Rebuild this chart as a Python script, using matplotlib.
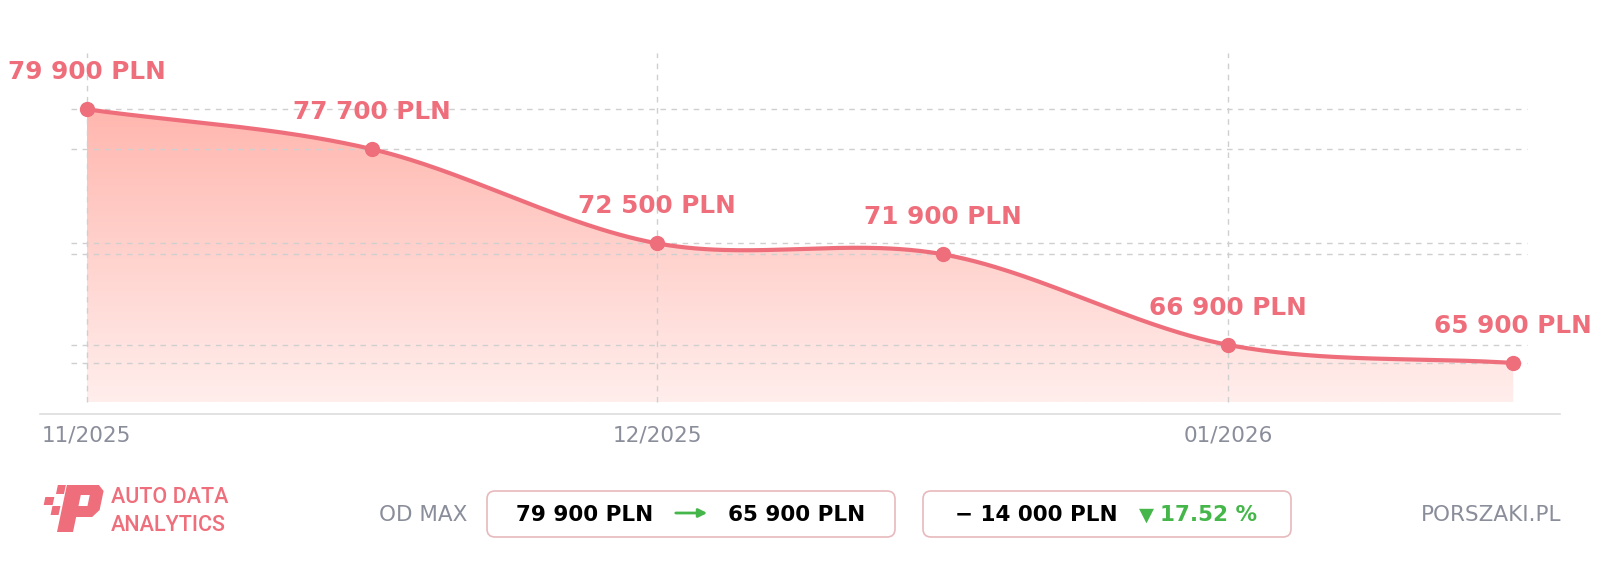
import numpy as np
import matplotlib
matplotlib.use("Agg")
import matplotlib.pyplot as plt
from matplotlib.patches import FancyBboxPatch, Polygon

# dane z wykresu
months = ["11/2025", "12/2025", "01/2026"]
month_pos = [0, 2, 4]
prices = [79900, 77700, 72500, 71900, 66900, 65900]

LINE = "#EE6E7B"
GRID = "#CFCFCF"
GRAY = "#8A8D9A"
GREEN = "#45B649"


def fmt(v):
    return f"{v:,}".replace(",", " ") + " PLN"


# krzywa Catmull-Rom (Hermite), rowne odstepy
def smooth(ys, n=60):
    ys = np.asarray(ys, float)
    m = len(ys)
    tang = np.zeros(m)
    tang[0] = ys[1] - ys[0]
    tang[-1] = ys[-1] - ys[-2]
    tang[1:-1] = (ys[2:] - ys[:-2]) / 2
    xs, out = [], []
    for i in range(m - 1):
        t = np.linspace(0, 1, n, endpoint=(i == m - 2))
        h00 = 2 * t ** 3 - 3 * t ** 2 + 1
        h10 = t ** 3 - 2 * t ** 2 + t
        h01 = -2 * t ** 3 + 3 * t ** 2
        h11 = t ** 3 - t ** 2
        out.append(h00 * ys[i] + h10 * tang[i] + h01 * ys[i + 1] + h11 * tang[i + 1])
        xs.append(i + t)
    return np.concatenate(xs), np.concatenate(out)


W, H = 1600, 569
fig = plt.figure(figsize=(W / 100, H / 100), dpi=100)
ax = fig.add_axes([40 / W, (H - 414) / H, 1520 / W, 384 / H])

x = np.arange(len(prices))
y_bot_fill = 63750
y_top_grid = 83000
ax.set_xlim(-0.164, len(prices) - 1 + 0.164)
ax.set_ylim(63084, 84276)

sx, sy = smooth(prices)

# gradient pod linia
verts = np.vstack([np.column_stack([sx, sy]),
                   [[sx[-1], y_bot_fill], [sx[0], y_bot_fill]]])
poly = Polygon(verts, closed=True, facecolor="none", edgecolor="none")
ax.add_patch(poly)
top_c = np.array([255, 182, 174]) / 255
bot_c = np.array([255, 238, 236]) / 255
g = np.linspace(0, 1, 256)[:, None]
grad = (top_c[None, :] * (1 - g) + bot_c[None, :] * g)[:, None, :]
im = ax.imshow(grad, extent=[0, len(prices) - 1, y_bot_fill, max(prices) + 200],
               aspect="auto", origin="upper", zorder=1)
im.set_clip_path(poly)

# siatka
for v in prices:
    ax.hlines(v, -0.055, len(prices) - 1 + 0.05, colors=GRID, linestyles=(0, (4, 4)),
              linewidth=1, zorder=2)
ax.vlines(month_pos, y_bot_fill, y_top_grid, colors=GRID, linestyles=(0, (4, 4)),
          linewidth=1, zorder=2)

ax.plot(sx, sy, color=LINE, lw=3, zorder=4, solid_capstyle="round")
ax.plot(x, prices, "o", color=LINE, ms=10, zorder=5)

for xi, v in zip(x, prices):
    ax.annotate(fmt(v), (xi, v), xytext=(0, 26.6), textcoords="offset points",
                ha="center", va="center", fontsize=17.8, fontweight="bold",
                color=LINE, zorder=6)

ax.set_xticks(month_pos)
ax.set_xticklabels(months)
ax.set_yticks([])
ax.tick_params(axis="x", length=0, pad=8, labelsize=15.5, labelcolor=GRAY)
for s in ["left", "right", "top"]:
    ax.spines[s].set_visible(False)
ax.spines["bottom"].set_color("#DDDDDD")
ax.spines["bottom"].set_linewidth(1.2)
ax.patch.set_alpha(0)

# dolny pasek
ov = fig.add_axes([0, 0, 1, 1], zorder=-1)
ov.set_xlim(0, W)
ov.set_ylim(H, 0)
ov.axis("off")


# logo
def skew(pts, k=0.21, base=532):
    return [(px + k * (base - py), py) for px, py in pts]


p_outer = [(57, 532), (57, 485), (89, 485), (95, 491), (95, 510), (89, 517),
           (73, 517), (73, 532)]
p_hole = [(73, 495), (82, 495), (82, 506), (73, 506)]
ov.add_patch(Polygon(skew(p_outer), closed=True, color=LINE, lw=0))
ov.add_patch(Polygon(skew(p_hole), closed=True, color="white", lw=0))
for qx, qy, qw, qh in [(48, 485, 8, 9), (38, 497, 9, 8), (47, 506, 8, 9)]:
    ov.add_patch(Polygon(skew([(qx, qy), (qx + qw, qy), (qx + qw, qy + qh), (qx, qy + qh)]),
                         closed=True, color=LINE, lw=0))
ov.text(111, 503, "AUTO DATA", fontsize=15.5, family="Roboto", fontweight="medium",
        color=LINE, va="baseline")
ov.text(111, 531, "ANALYTICS", fontsize=15.5, family="Roboto", fontweight="medium",
        color=LINE, va="baseline")

ov.text(467, 521, "OD MAX", fontsize=15.5, color=GRAY, ha="right", va="baseline")
ov.text(1561, 521, "PORSZAKI.PL", fontsize=15.5, color=GRAY, ha="right", va="baseline")

for bx, bw in [(487, 408), (923, 368)]:
    ov.add_patch(FancyBboxPatch((bx, 491), bw, 46,
                                boxstyle="round,pad=0,rounding_size=8",
                                facecolor="white", edgecolor="#E8B9BC", lw=1.2))

max_p, last_p = max(prices), prices[-1]
diff = max_p - last_p
pct = diff / max_p * 100

ov.text(585, 521, fmt(max_p), fontsize=15.5, fontweight="bold", ha="center", va="baseline")
ov.annotate("", xy=(710, 513), xytext=(673, 513),
            arrowprops=dict(arrowstyle="-|>,head_length=0.5,head_width=0.25",
                            color=GREEN, lw=2))
ov.text(797, 521, fmt(last_p), fontsize=15.5, fontweight="bold", ha="center", va="baseline")
ov.text(1036, 521, "\u2212 " + fmt(diff), fontsize=15.5, fontweight="bold",
        ha="center", va="baseline")
ov.text(1146, 521, "\u25BC", fontsize=14, color=GREEN, ha="center", va="baseline")
ov.text(1160, 521, f"{pct:.2f} %", fontsize=15.5, fontweight="bold", color=GREEN,
        ha="left", va="baseline")

fig.savefig("out.png", dpi=100, facecolor="white")
